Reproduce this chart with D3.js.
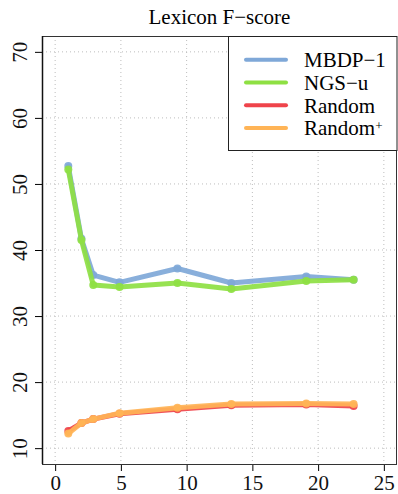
<!DOCTYPE html>
<html>
<head>
<meta charset="utf-8">
<script src="https://cdn.jsdelivr.net/npm/d3@7"></script>
<style>
  body { margin: 0; background: #fff; }
  svg, svg text { font-family: "Liberation Serif", "DejaVu Serif", serif; }
  svg { display: block; }
  .grid line { stroke: #bdbdbd; stroke-width: 1; stroke-dasharray: 1,3; }
  .dataLine { fill: none; stroke-width: 5; stroke-linejoin: round; stroke-linecap: round; }
</style>
</head>
<body>
<div id="chart"></div>
<script>
// x positions of the sampled points
const xs = [1, 2, 2.9, 4.9, 9.3, 13.4, 19.1, 22.7];

// series values (Lexicon F-score)
const mbdp = [52.7, 41.7, 36.2, 35.1, 37.2, 35.0, 36.0, 35.5];
const ngs = [52.2, 41.5, 34.7, 34.4, 35.0, 34.1, 35.3, 35.5];
const random = [12.6, 13.8, 14.4, 15.2, 15.9, 16.5, 16.6, 16.4];
const randomPlus = [12.2, 13.8, 14.4, 15.3, 16.1, 16.7, 16.75, 16.7];

const seriesNames = ["MBDP−1", "NGS−u", "Random", "Random"];
const seriesColors = ["#7fa8d8", "#8ee043", "#ef444b", "#ffb456"];
const seriesValues = [mbdp, ngs, random, randomPlus];

const xTicks = [0, 5, 10, 15, 20, 25];
const yTicks = [10, 20, 30, 40, 50, 60, 70];

const W = 398, H = 494;
const margin = { top: 36, left: 42, right: 1, bottom: 30 };
const serif = "'Liberation Serif', 'DejaVu Serif', serif";

const svg = d3.select("#chart").append("svg")
  .attr("width", W)
  .attr("height", H);

// R-style 4% padded limits
const xScale = d3.scaleLinear().domain([-1, 26]).range([margin.left, W - margin.right]);
const yScale = d3.scaleLinear().domain([7.6, 72.4]).range([H - margin.bottom, margin.top]);

// title
svg.append("text")
  .attr("x", (margin.left + W - margin.right) / 2)
  .attr("y", 24)
  .attr("text-anchor", "middle")
  .style("font-family", serif)
  .style("font-size", "21px")
  .text("Lexicon F−score");

// dotted grid
const grid = svg.append("g").attr("class", "grid");
grid.selectAll(".gx").data(xTicks).join("line")
  .attr("x1", d => xScale(d)).attr("x2", d => xScale(d))
  .attr("y1", margin.top).attr("y2", H - margin.bottom);
grid.selectAll(".gy").data(yTicks).join("line")
  .attr("x1", margin.left).attr("x2", W - margin.right)
  .attr("y1", d => yScale(d)).attr("y2", d => yScale(d));

// x axis
const xAxis = svg.append("g")
  .attr("transform", "translate(0," + (H - margin.bottom) + ")")
  .call(d3.axisBottom(xScale).tickValues(xTicks).tickSize(7).tickPadding(4));
xAxis.selectAll("text")
  .style("font-family", serif)
  .style("font-size", "21px")
  .attr("fill", "#111");
xAxis.select(".domain").remove();

// y axis with rotated labels
const yAxis = svg.append("g")
  .attr("transform", "translate(" + margin.left + ",0)")
  .call(d3.axisLeft(yScale).tickValues(yTicks).tickSize(7));
yAxis.select(".domain").remove();
yAxis.selectAll("text")
  .style("font-family", serif)
  .style("font-size", "21px")
  .attr("fill", "#111")
  .attr("x", null).attr("dy", null)
  .attr("text-anchor", "middle")
  .attr("transform", "translate(-15,0) rotate(-90)");

// lines and points
const line = d3.line()
  .x((d, i) => xScale(xs[i]))
  .y(d => yScale(d));

seriesValues.forEach((vals, k) => {
  svg.append("path")
    .attr("class", "dataLine")
    .attr("d", line(vals))
    .attr("stroke", seriesColors[k])
    .attr("stroke-opacity", 0.92);
  svg.append("g").selectAll("circle").data(vals).join("circle")
    .attr("cx", (d, i) => xScale(xs[i]))
    .attr("cy", d => yScale(d))
    .attr("r", 4)
    .attr("fill", seriesColors[k])
    .attr("fill-opacity", 0.92);
});

// plot box
svg.append("rect")
  .attr("x", margin.left + 0.5).attr("y", margin.top + 0.5)
  .attr("width", W - margin.right - margin.left - 1)
  .attr("height", H - margin.bottom - margin.top)
  .attr("fill", "none")
  .attr("stroke", "#333");
svg.append("line")
  .attr("x1", margin.left + 0.5).attr("x2", margin.left + 0.5)
  .attr("y1", margin.top).attr("y2", H - margin.bottom)
  .attr("stroke", "#111").attr("stroke-width", 1.5);

// legend
const legend = svg.append("g");
legend.append("rect")
  .attr("x", 228.5).attr("y", margin.top + 0.5)
  .attr("width", W - margin.right - 228.5)
  .attr("height", 114)
  .attr("fill", "#fff")
  .attr("stroke", "#222");
seriesNames.forEach((name, k) => {
  const ly = 59.7 + k * 22.8;
  legend.append("line")
    .attr("x1", 246).attr("x2", 286)
    .attr("y1", ly).attr("y2", ly)
    .attr("stroke", seriesColors[k])
    .attr("stroke-width", 4)
    .attr("stroke-linecap", "round");
  const t = legend.append("text")
    .attr("x", 304).attr("y", ly)
    .attr("dy", "0.35em")
    .style("font-family", serif)
    .style("font-size", "21px")
    .text(name);
  if (k === 3) {
    t.append("tspan")
      .attr("dy", "-0.45em")
      .style("font-size", "13px")
      .text("+");
  }
});
</script>
</body>
</html>
